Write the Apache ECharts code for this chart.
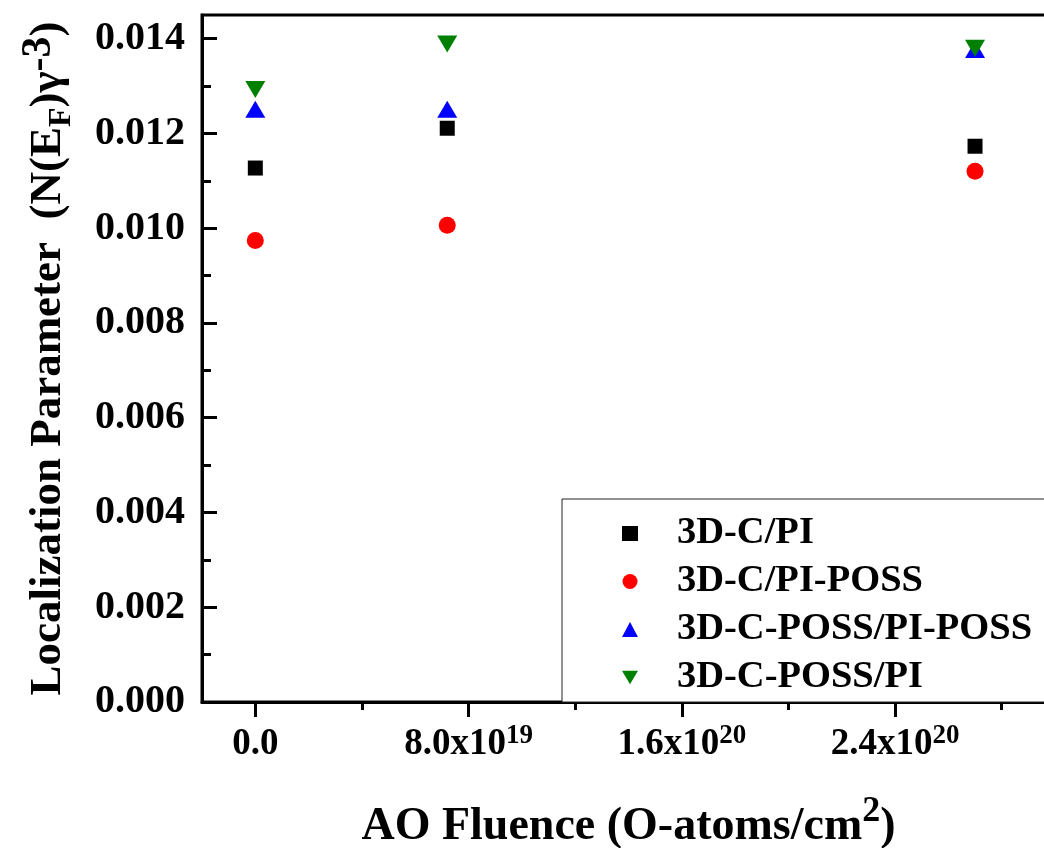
<!DOCTYPE html>
<html lang="en">
<head>
    <meta charset="UTF-8">
    <title>Localization Parameter</title>
    <script src="https://cdn.jsdelivr.net/npm/echarts@6/dist/echarts.min.js"></script>
    <style>
        html, body { margin: 0; padding: 0; background: #fff; }
        #chart { width: 1044px; height: 848px; }
    </style>
</head>
<body>
<div id="chart"></div>

<script>
    // AO fluence (O-atoms/cm2) of the samples
    var fluence = [0, 7.2e19, 2.7e20];

    // localization parameter per sample
    var names = ['3D-C/PI', '3D-C/PI-POSS', '3D-C-POSS/PI-POSS', '3D-C-POSS/PI'];
    var cPi = [0.01127, 0.01211, 0.01173];
    var cPiPoss = [0.00974, 0.01006, 0.01120];
    var cPossPiPoss = [0.01251, 0.01251, 0.01377];
    var cPossPi = [0.01293, 0.01389, 0.01380];

    // axis ticks
    var xMajor = [0, 8e19, 1.6e20, 2.4e20];
    var xMinor = [4e19, 1.2e20, 2e20, 2.8e20];
    var xMantissa = ['0.0', '8.0', '1.6', '2.4'];
    var xExponent = ['', '19', '20', '20'];
    var yMajor = [0, 0.002, 0.004, 0.006, 0.008, 0.010, 0.012, 0.014];
    var yMinor = [0.001, 0.003, 0.005, 0.007, 0.009, 0.011, 0.013];

    var serif = '"Liberation Serif", "Times New Roman", serif';

    function pairs(ys) {
        return fluence.map(function (x, i) { return [x, ys[i]]; });
    }

    var option = {
        backgroundColor: '#fff',
        animation: false,
        grid: {
            left: 202, top: 15, right: -11, bottom: 146,
            outerBoundsMode: 'none', containLabel: false,
            show: true, borderColor: '#000', borderWidth: 3
        },
        legend: {
            left: 562, top: 499,
            orient: 'vertical',
            padding: [15, 60, 5, 60],
            itemWidth: 16, itemHeight: 15, itemGap: 9,
            borderColor: '#222', borderWidth: 1,
            backgroundColor: '#fff',
            textStyle: {
                fontFamily: serif, fontWeight: 'bold', fontSize: 38.5, color: '#000',
                lineHeight: 36, padding: [0, 0, 0, 34]
            },
            data: [
                { name: names[0] },
                { name: names[1] },
                { name: names[2] },
                { name: names[3], icon: 'path://M0,0L20,0L10,17Z' }
            ]
        },
        xAxis: [{
            type: 'value', min: -2e19, max: 3e20,
            axisLine: { onZero: false, lineStyle: { color: '#000', width: 3 } },
            axisTick: { customValues: xMajor, length: 15, lineStyle: { color: '#000', width: 3 } },
            splitLine: { show: false },
            axisLabel: {
                customValues: xMajor, margin: 21,
                formatter: function (v) {
                    var i = xMajor.indexOf(v);
                    if (i < 0) return '';
                    if (!xExponent[i]) return '{m|' + xMantissa[i] + '}';
                    return '{m|' + xMantissa[i] + 'x10}{sup|' + xExponent[i] + '}';
                },
                rich: {
                    m: { fontFamily: serif, fontWeight: 'bold', fontSize: 37, color: '#000', lineHeight: 40, verticalAlign: 'bottom' },
                    sup: { fontFamily: serif, fontWeight: 'bold', fontSize: 27, color: '#000', lineHeight: 40, verticalAlign: 'top' }
                }
            },
            name: '{t|AO Fluence (O-atoms/cm}{s|2}{t|)}',
            nameLocation: 'middle', nameGap: 92,
            nameTextStyle: {
                rich: {
                    t: { fontFamily: serif, fontWeight: 'bold', fontSize: 46, color: '#000', lineHeight: 56, verticalAlign: 'bottom' },
                    s: { fontFamily: serif, fontWeight: 'bold', fontSize: 36, color: '#000', lineHeight: 56, verticalAlign: 'top' }
                }
            }
        }, {
            type: 'value', min: -2e19, max: 3e20, position: 'bottom',
            axisLine: { show: false, onZero: false },
            axisTick: { customValues: xMinor, length: 8, lineStyle: { color: '#000', width: 3 } },
            axisLabel: { show: false },
            splitLine: { show: false }
        }],
        yAxis: [{
            type: 'value', min: 0, max: 0.0145, position: 'left',
            axisLine: { show: true, onZero: false, lineStyle: { color: '#000', width: 3 } },
            axisTick: { customValues: yMajor, inside: true, length: 15, lineStyle: { color: '#000', width: 3 } },
            splitLine: { show: false },
            axisLabel: {
                customValues: yMajor, margin: 17,
                fontFamily: serif, fontWeight: 'bold', fontSize: 40, color: '#000',
                formatter: function (v) { return v.toFixed(3); }
            },
            name: '{t|Localization Parameter  (N(E}{sub|F}{t|)\u03b3}{sup|-3}{t|)}',
            nameLocation: 'middle', nameGap: 124,
            nameTextStyle: {
                rich: {
                    t: { fontFamily: serif, fontWeight: 'bold', fontSize: 45, color: '#000', lineHeight: 60, verticalAlign: 'middle' },
                    sub: { fontFamily: serif, fontWeight: 'bold', fontSize: 32, color: '#000', lineHeight: 60, verticalAlign: 'bottom' },
                    sup: { fontFamily: serif, fontWeight: 'bold', fontSize: 42, color: '#000', lineHeight: 60, verticalAlign: 'top' }
                }
            }
        }, {
            type: 'value', min: 0, max: 0.0145, position: 'left',
            axisLine: { show: false, onZero: false },
            axisTick: { customValues: yMinor, inside: true, length: 9, lineStyle: { color: '#000', width: 3 } },
            axisLabel: { show: false },
            splitLine: { show: false }
        }],
        series: [{
            name: names[0], type: 'scatter', data: pairs(cPi),
            symbol: 'rect', symbolSize: 15, itemStyle: { color: '#000', opacity: 1 }
        }, {
            name: names[1], type: 'scatter', data: pairs(cPiPoss),
            symbol: 'circle', symbolSize: 17, itemStyle: { color: '#ff0000', opacity: 1 }
        }, {
            name: names[2], type: 'scatter', data: pairs(cPossPiPoss),
            symbol: 'triangle', symbolSize: [20, 17], itemStyle: { color: '#0000ff', opacity: 1 }
        }, {
            name: names[3], type: 'scatter', data: pairs(cPossPi),
            symbol: 'triangle', symbolRotate: 180, symbolSize: [20, 17], itemStyle: { color: '#008000', opacity: 1 }
        }]
    };

    var myChart = echarts.init(document.getElementById('chart'));
    myChart.setOption(option);
</script>
</body>
</html>
